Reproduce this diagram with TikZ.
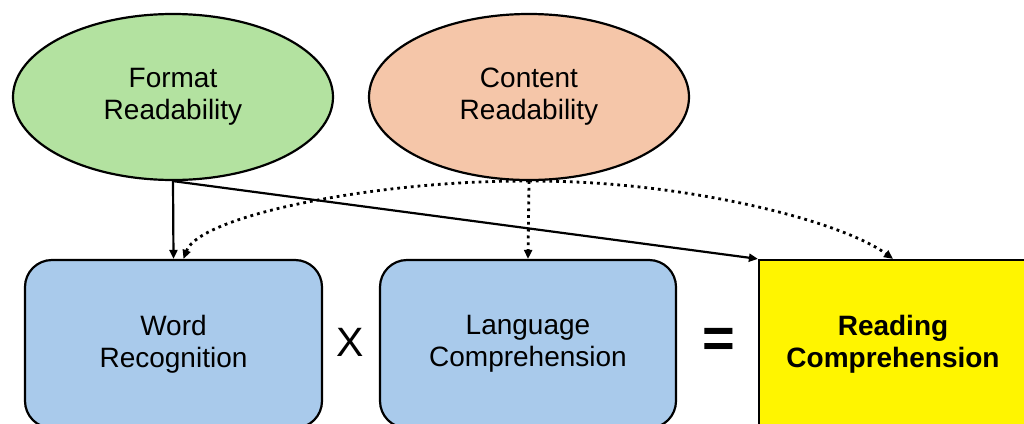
\documentclass[tikz,border=0pt]{standalone}
\usepackage{fontspec}
\setmainfont{Liberation Sans}
\usetikzlibrary{shapes.geometric,arrows.meta}
\definecolor{fgreen}{HTML}{B3E2A0}
\definecolor{cpeach}{HTML}{F5C6A9}
\definecolor{bblue}{HTML}{A9CAEB}
\definecolor{ryellow}{HTML}{FFF500}
\tikzset{
  ell/.style={ellipse, draw=black, line width=2.2pt, inner sep=0pt, minimum width=320pt, minimum height=166pt, align=center, font=\fontsize{28}{32}\selectfont},
  blk/.style={rectangle, draw=black, line width=2.2pt, inner sep=0pt, minimum height=168pt, align=center, font=\fontsize{28}{32}\selectfont},
  conn/.style={line width=2.2pt, -{Triangle[length=9pt,width=8pt]}},
  dotconn/.style={line width=2.8pt, dash pattern=on 2.8pt off 4pt, -{Triangle[length=9pt,width=8pt]}},
  opsym/.style={inner sep=0pt}
}
\begin{document}
\begin{tikzpicture}[x=1pt,y=-1pt]
\useasboundingbox (0,0) rectangle (1024,423);
\fill[white] (0,0) rectangle (1024,423);
\node[ell, fill=fgreen] (format) at (173,97) {Format\\Readability};
\node[ell, fill=cpeach] (content) at (529,97) {Content\\Readability};
\node[blk, fill=bblue, rounded corners=27pt, minimum width=297pt] (word) at (173.5,344) {Word\\Recognition};
\node[blk, fill=bblue, rounded corners=27pt, minimum width=296pt] (lang) at (528,344) {Language\\Comprehension};
\node[blk, fill=ryellow, minimum width=268pt] (read) at (893,344) {\bfseries Reading\\\bfseries Comprehension};
\node[opsym, font=\fontsize{41}{41}\selectfont] (times) at (350,342) {X};
\node[opsym, font=\bfseries\fontsize{56}{56}\selectfont] (eq) at (719,343) {=};
\draw[conn] (format.south) -- (word.north);
\draw[conn] (format.south) -- (read.north west);
\draw[dotconn] (content.south) -- (lang.north);
\draw[dotconn] (content.south) .. controls (380,180) and (200,215) .. ([xshift=10pt]word.north);
\draw[dotconn] (content.south) .. controls (680,180) and (840,220) .. (read.north);
\end{tikzpicture}
\end{document}
